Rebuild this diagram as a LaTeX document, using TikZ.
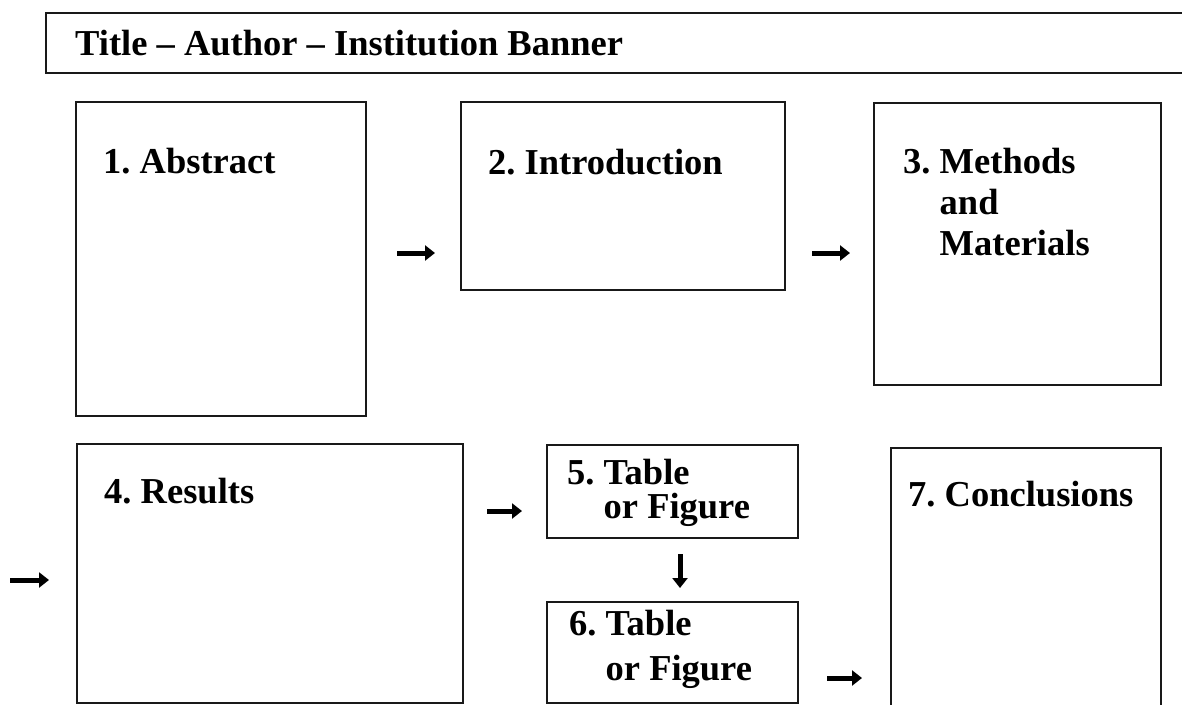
\documentclass[tikz,border=0pt]{standalone}
\usepackage{fontspec}
\setmainfont{Liberation Serif}
\usetikzlibrary{arrows.meta,calc}
\frenchspacing
\tikzset{
  pbox/.style={draw=black!90, line width=2.2pt, anchor=north west, inner sep=0pt},
  lbl/.style={anchor=base west, inner sep=0pt, font=\bfseries\fontsize{36.5}{41}\selectfont, align=left},
  arr/.style={line width=5pt, -{Triangle[length=10pt,width=15pt]}},
}
\begin{document}
\begin{tikzpicture}[x=1pt,y=-1pt]
\useasboundingbox (0,0) rectangle (1182,704);
\clip (0,0) rectangle (1182,704);
% boxes
\node[pbox, minimum width=1160pt, minimum height=60pt] (banner) at (45,12) {};
\node[pbox, minimum width=290pt, minimum height=314pt] (box1) at (75,101) {};
\node[pbox, minimum width=324pt, minimum height=188pt] (box2) at (460,101) {};
\node[pbox, minimum width=287pt, minimum height=282pt] (box3) at (873,102) {};
\node[pbox, minimum width=386pt, minimum height=259pt] (box4) at (76,443) {};
\node[pbox, minimum width=251pt, minimum height=93pt] (box5) at (546,444) {};
\node[pbox, minimum width=251pt, minimum height=101pt] (box6) at (546,601) {};
\node[pbox, minimum width=270pt, minimum height=280pt] (box7) at (890,447) {};
% labels (base anchor = baseline of the last line)
\node[lbl] (t0) at (75,55) {Title – Author – Institution Banner};
\node[lbl] (t1) at (103,173) {1. Abstract};
\node[lbl] (t2) at (488,174) {2. Introduction};
\node[lbl] (t3) at (903,255) {3. Methods\\\hphantom{3. }and\\\hphantom{3. }Materials};
\node[lbl] (t4) at (104,503) {4. Results};
\node[lbl, font=\bfseries\fontsize{36.5}{34}\selectfont] (t5) at (567,518) {5. Table\\\hphantom{5. }or Figure};
\node[lbl, font=\bfseries\fontsize{36.5}{45}\selectfont] (t6) at (569,680) {6. Table\\\hphantom{6. }or Figure};
\node[lbl] (t7) at (908,506) {7. Conclusions};
% arrows
\coordinate (r1) at (0,253);
\coordinate (r2) at (0,511);
\coordinate (r3) at (0,678);
\coordinate (c56) at (680,0);
\coordinate (in4) at (10,580);
\draw[arr, shorten <=30pt, shorten >=25pt] (box1.east |- r1) -- (box2.west |- r1);
\draw[arr, shorten <=26pt, shorten >=23pt] (box2.east |- r1) -- (box3.west |- r1);
\draw[arr, shorten >=27pt] (in4) -- (box4.west |- in4);
\draw[arr, shorten <=23pt, shorten >=24pt] (box4.east |- r2) -- (box5.west |- r2);
\draw[arr, shorten <=15pt, shorten >=13pt] (box5.south -| c56) -- (box6.north -| c56);
\draw[arr, shorten <=28pt, shorten >=28pt] (box6.east |- r3) -- (box7.west |- r3);
\end{tikzpicture}
\end{document}
